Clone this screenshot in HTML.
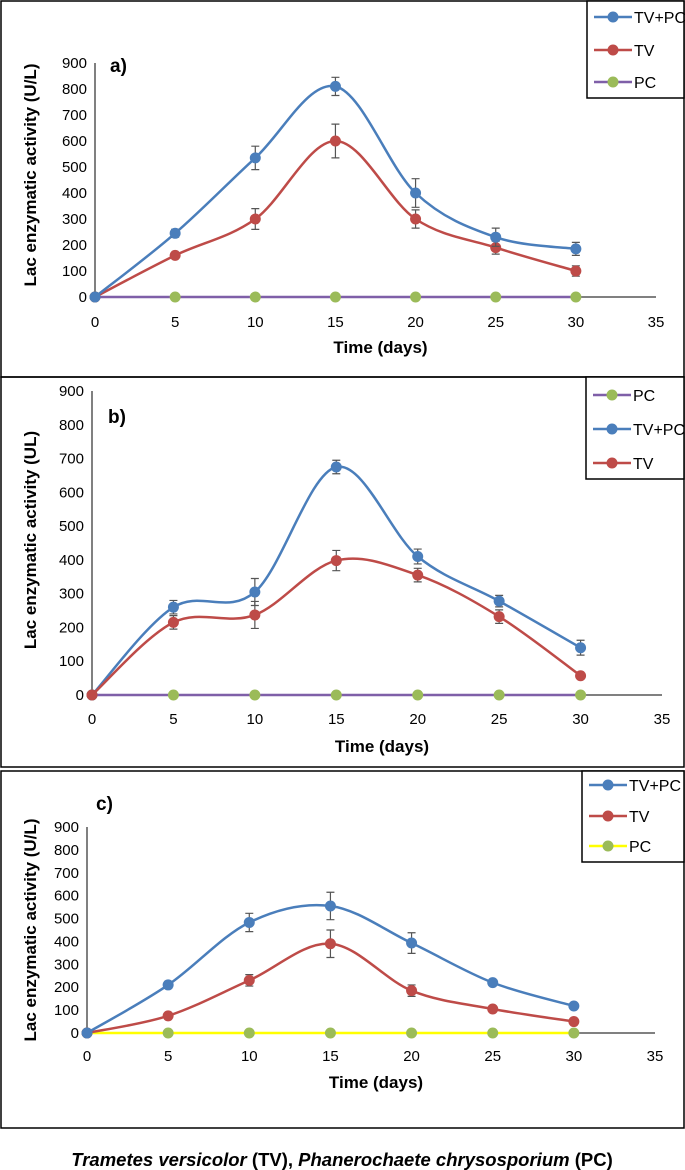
<!DOCTYPE html>
<html><head><meta charset="utf-8">
<style>
html,body{margin:0;padding:0;background:#fff;}
svg{display:block;}
text{font-family:"Liberation Sans Narrow","Liberation Sans",sans-serif;}
</style></head>
<body>
<svg id="fig" width="685" height="1170" viewBox="0 0 685 1170" xmlns="http://www.w3.org/2000/svg">
<text x="342" y="1166" text-anchor="middle" font-size="18.5" style="font-family:'Liberation Sans',sans-serif"><tspan font-style="italic" font-weight="bold">Trametes versicolor</tspan><tspan font-weight="bold"> (TV), </tspan><tspan font-style="italic" font-weight="bold">Phanerochaete chrysosporium</tspan><tspan font-weight="bold"> (PC)</tspan></text>
</svg>
<script>
const days = [0, 5, 10, 15, 20, 25, 30];
const xTicks = [0, 5, 10, 15, 20, 25, 30, 35];
const yTicks = [0, 100, 200, 300, 400, 500, 600, 700, 800, 900];
const aTVPC = [0, 245, 535, 810, 400, 230, 185];
const aTVPCerr = [0, 15, 45, 35, 55, 35, 25];
const aTV = [0, 160, 300, 600, 300, 190, 100];
const aTVerr = [0, 10, 40, 65, 35, 25, 20];
const aPC = [0, 0, 0, 0, 0, 0, 0];
const bTVPC = [0, 260, 305, 675, 410, 278, 140];
const bTVPCerr = [0, 20, 40, 20, 22, 17, 22];
const bTV = [0, 215, 237, 398, 355, 232, 57];
const bTVerr = [0, 20, 40, 30, 20, 20, 8];
const bPC = [0, 0, 0, 0, 0, 0, 0];
const cTVPC = [0, 210, 483, 555, 393, 220, 118];
const cTVPCerr = [0, 15, 40, 60, 45, 10, 8];
const cTV = [0, 75, 230, 390, 185, 105, 50];
const cTVerr = [0, 8, 25, 60, 25, 8, 8];
const cPC = [0, 0, 0, 0, 0, 0, 0];

const NS = "http://www.w3.org/2000/svg";
const svg = document.getElementById('fig');
function mk(tag, attrs, parent) {
  const e = document.createElementNS(NS, tag);
  for (const k in attrs) e.setAttribute(k, attrs[k]);
  (parent || svg).appendChild(e);
  return e;
}
const BLUE = '#4a7ebb', RED = '#be4b48', GREEN = '#9bbb59', PURPLE = '#7f5fa8', YELLOW = '#ffff00';

function smoothPath(pts) {
  let d = 'M' + pts[0][0] + ',' + pts[0][1];
  for (let i = 0; i < pts.length - 1; i++) {
    const p0 = pts[Math.max(0, i - 1)], p1 = pts[i], p2 = pts[i + 1], p3 = pts[Math.min(pts.length - 1, i + 2)];
    const t = 1 / 6;
    const c1 = [p1[0] + (p2[0] - p0[0]) * t, p1[1] + (p2[1] - p0[1]) * t];
    const c2 = [p2[0] - (p3[0] - p1[0]) * t, p2[1] - (p3[1] - p1[1]) * t];
    d += ' C' + c1[0] + ',' + c1[1] + ' ' + c2[0] + ',' + c2[1] + ' ' + p2[0] + ',' + p2[1];
  }
  return d;
}

function panel(cfg) {
  const g = mk('g', {});
  
  
  const frame = mk('rect', {x: 1, y: cfg.top, width: 683, height: cfg.bottom - cfg.top, fill: 'none', stroke: '#000', 'stroke-width': 1.5}, g);
  
  
  const X = v => cfg.x0 + (v / 35) * (cfg.x35 - cfg.x0);
  const Y = v => cfg.y0 - (v / 900) * (cfg.y0 - cfg.y900);
  const ya = mk('line', {x1: X(0), x2: X(0), y1: Y(900), y2: Y(0), stroke: '#000', 'stroke-width': 1}, g);
  
  
  const xa = mk('line', {x1: X(0), x2: X(35), y1: Y(0), y2: Y(0), stroke: '#000', 'stroke-width': 1}, g);
  
  
  yTicks.forEach(v => {
    const t = mk('text', {x: X(0) - 8, y: Y(v) + 5, 'text-anchor': 'end', 'font-size': 15}, g);
    t.textContent = v;
    
    
  });
  xTicks.forEach(v => {
    const t = mk('text', {x: X(v), y: cfg.xlabY, 'text-anchor': 'middle', 'font-size': 15}, g);
    t.textContent = v;
    
    
  });
  const xt = mk('text', {x: (X(0) + X(35)) / 2 + 5, y: cfg.xtitleY, 'text-anchor': 'middle', 'font-size': 17, 'font-weight': 'bold', style: "font-family:'Liberation Sans',sans-serif"}, g);
  xt.textContent = 'Time (days)';
  
  
  const ytY = cfg.ytitleY;
  const yt = mk('text', {x: 36, y: ytY, 'text-anchor': 'middle', 'font-size': 17, 'font-weight': 'bold', transform: 'rotate(-90 36 ' + ytY + ')', style: "font-family:'Liberation Sans',sans-serif"}, g);
  yt.textContent = cfg.ytitle;
  
  
  const pl = mk('text', {x: cfg.labX, y: cfg.labY, 'font-size': 19, 'font-weight': 'bold', style: "font-family:'Liberation Sans',sans-serif"}, g);
  pl.textContent = cfg.id + ')';
  
  

  cfg.series.forEach(s => {
    const sg = mk('g', {}, g);
    
    
    const pts = days.map((d, i) => [X(d), Y(s.vals[i])]);
    const p = mk('path', {d: smoothPath(pts), fill: 'none', stroke: s.line, 'stroke-width': 2.5}, sg);
    
    
    days.forEach((d, i) => {
      if (s.err && s.err[i] > 0) {
        const e = s.err[i], x = X(d);
        const eb = mk('path', {d: 'M' + x + ',' + Y(s.vals[i] + e) + 'V' + Y(s.vals[i] - e) + 'M' + (x - 4) + ',' + Y(s.vals[i] + e) + 'h8M' + (x - 4) + ',' + Y(s.vals[i] - e) + 'h8', stroke: '#555', 'stroke-width': 1.2, fill: 'none'}, sg);
        
        
      }
      const c = mk('circle', {cx: X(d), cy: Y(s.vals[i]), r: 5.5, fill: s.dot}, sg);
      
      
    });
  });

  const lg = mk('g', {}, g);
  
  
  const lb = mk('rect', {x: cfg.legX, y: cfg.top, width: 684 - cfg.legX, height: cfg.legH, fill: '#fff', stroke: '#000', 'stroke-width': 1.5}, lg);
  
  
  cfg.legend.forEach((name, k) => {
    const s = cfg.series.find(q => q.name === name);
    const yy = cfg.legY[k];
    const le = mk('g', {}, lg);
    
    
    mk('line', {x1: cfg.legX + 7, x2: cfg.legX + 45, y1: yy, y2: yy, stroke: s.line, 'stroke-width': 2.5}, le);
    mk('circle', {cx: cfg.legX + 26, cy: yy, r: 5.5, fill: s.dot}, le);
    const t = mk('text', {x: cfg.legX + 47, y: yy + 6, 'font-size': 16}, le);
    t.textContent = name;
  });
}

panel({id: 'a', top: 1, bottom: 377, x0: 95, x35: 656, y0: 297, y900: 63, xlabY: 327, xtitleY: 353,
  ytitle: 'Lac enzymatic activity (U/L)', ytitleY: 175, labX: 110, labY: 72,
  legX: 587, legH: 97, legend: ['TV+PC', 'TV', 'PC'], legY: [17, 50, 82],
  series: [
    {name: 'PC', vals: aPC, err: null, line: PURPLE, dot: GREEN},
    {name: 'TV', vals: aTV, err: aTVerr, line: RED, dot: RED},
    {name: 'TV+PC', vals: aTVPC, err: aTVPCerr, line: BLUE, dot: BLUE}
  ]});
panel({id: 'b', top: 377, bottom: 767, x0: 92, x35: 662, y0: 695, y900: 391, xlabY: 724, xtitleY: 752,
  ytitle: 'Lac enzymatic activity (UL)', ytitleY: 540, labX: 108, labY: 423,
  legX: 586, legH: 102, legend: ['PC', 'TV+PC', 'TV'], legY: [395, 429, 463],
  series: [
    {name: 'PC', vals: bPC, err: null, line: PURPLE, dot: GREEN},
    {name: 'TV+PC', vals: bTVPC, err: bTVPCerr, line: BLUE, dot: BLUE},
    {name: 'TV', vals: bTV, err: bTVerr, line: RED, dot: RED}
  ]});
panel({id: 'c', top: 771, bottom: 1128, x0: 87, x35: 655, y0: 1033, y900: 827, xlabY: 1061, xtitleY: 1088,
  ytitle: 'Lac enzymatic activity (U/L)', ytitleY: 930, labX: 96, labY: 810,
  legX: 582, legH: 91, legend: ['TV+PC', 'TV', 'PC'], legY: [785, 816, 846],
  series: [
    {name: 'PC', vals: cPC, err: null, line: YELLOW, dot: GREEN},
    {name: 'TV', vals: cTV, err: cTVerr, line: RED, dot: RED},
    {name: 'TV+PC', vals: cTVPC, err: cTVPCerr, line: BLUE, dot: BLUE}
  ]});
</script>
</body></html>
